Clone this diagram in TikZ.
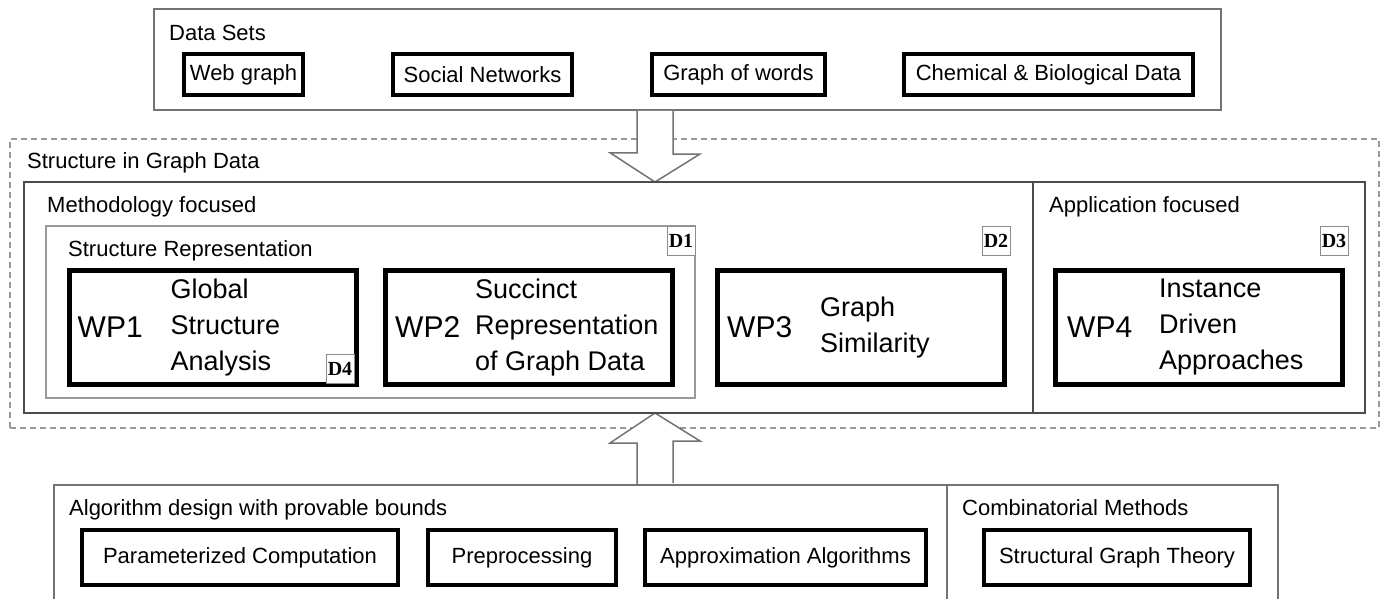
\documentclass[tikz,border=0pt]{standalone}
\usepackage{fontspec}
\setmainfont{Liberation Sans}
\newfontfamily\dlabelfont{Liberation Serif}
\usepackage{tikz}
\usetikzlibrary{calc,positioning}

\tikzset{
  frame/.style={draw=black!55, line width=1.5pt, inner sep=0pt},
  heading/.style={anchor=base west, inner sep=0pt, font=\fontsize{22}{26}\selectfont},
  itembox/.style={draw, line width=4.5pt, inner sep=0pt, minimum height=41pt, font=\fontsize{22}{26}\selectfont},
  wpbox/.style={draw, line width=5pt, inner sep=0pt, minimum width=287pt, minimum height=114pt},
  wpname/.style={anchor=west, inner sep=0pt, font=\fontsize{30}{36}\selectfont},
  wptext/.style={anchor=west, inner sep=0pt, align=left, font=\fontsize{27}{36}\selectfont},
  dbox/.style={draw=black!45, line width=1pt, fill=white, inner sep=0pt, minimum width=28pt, minimum height=29pt, font=\fontsize{20}{22}\selectfont\dlabelfont\bfseries},
  bigarrow/.style={draw=black!55, line width=1.5pt, fill=white, line join=miter},
}

\begin{document}
\begin{tikzpicture}[x=1pt,y=-1pt]
  \useasboundingbox (0,0) rectangle (1384,598);

  % data sets
  \node[frame, minimum width=1067pt, minimum height=101pt] (datasets) at (687.5,59.5) {};
  \node[heading] (datasetsT) at (169,40) {Data Sets};
  \node[itembox, minimum width=119pt] (web) at (243.5,74.5) {Web graph};
  \node[itembox, minimum width=179pt] (social) at (482.5,74.5) {Social Networks};
  \node[itembox, minimum width=173pt] (words) at (738.5,74.5) {Graph of words};
  \node[itembox, minimum width=289pt] (chem) at (1048.5,74.5) {Chemical \& Biological Data};

  % structure in graph data
  \node[frame, draw=black!40, dashed, dash pattern=on 6pt off 4pt, minimum width=1369pt, minimum height=289pt] (graphdata) at (694.5,283.5) {};
  \node[heading] (graphdataT) at (27,168) {Structure in Graph Data};

  % arrows in and out
  \coordinate (downtip) at (655,182);
  \coordinate (uptip) at (655,413);
  \draw[bigarrow] ($(downtip |- datasets.south)+(-18,0)$) -- ++(0,42) -- ++(-27,0)
    -- (downtip) -- ++(45,-28) -- ++(-27,0) -- ($(downtip |- datasets.south)+(18,0)$);
  \draw[bigarrow] ($(uptip)+(-18,72)$) -- ++(0,-42) -- ++(-27,0)
    -- (uptip) -- ++(45,28) -- ++(-27,0) -- ++(0,42);

  % methodology / application
  \node[frame, draw=black!70, minimum width=1341pt, minimum height=231pt] (focus) at (694.5,297.5) {};
  \draw[black!70, line width=1.5pt] (focus.north -| 1033,0) -- (focus.south -| 1033,0);
  \node[heading] (methT) at (47,212) {Methodology focused};
  \node[heading] (applT) at (1049,212) {Application focused};

  % structure representation
  \node[frame, draw=black!40, minimum width=649pt, minimum height=172pt] (represent) at (370.5,312) {};
  \node[heading] (representT) at (68,256) {Structure Representation};

  % work packages
  \node[wpbox] (wp1) at (212.5,327.5) {};
  \node[wpname] (wp1n) at ([xshift=11pt]wp1.west) {WP1};
  \node[wptext] (wp1t) at ([xshift=104pt]wp1.west) {Global\\Structure\\Analysis};

  \node[wpbox] (wp2) at (529,327.5) {};
  \node[wpname] (wp2n) at ([xshift=12pt]wp2.west) {WP2};
  \node[wptext] (wp2t) at ([xshift=92pt]wp2.west) {Succinct\\Representation\\of Graph Data};

  \node[wpbox] (wp3) at (861,327.5) {};
  \node[wpname] (wp3n) at ([xshift=12pt]wp3.west) {WP3};
  \node[wptext] (wp3t) at ([xshift=105pt]wp3.west) {Graph\\Similarity};

  \node[wpbox] (wp4) at (1199,327.5) {};
  \node[wpname] (wp4n) at ([xshift=14pt]wp4.west) {WP4};
  \node[wptext] (wp4t) at ([xshift=106pt]wp4.west) {Instance\\Driven\\Approaches};

  % deliverables
  \node[dbox] (d1) at (681,240.5) {D1};
  \node[dbox] (d2) at (996,240.5) {D2};
  \node[dbox] (d3) at (1334,240.5) {D3};
  \node[dbox] (d4) at (340,369) {D4};

  % methods
  \draw[black!55, line width=1.5pt] (54,600) -- (54,485) -- (947,485) -- (947,600);
  \draw[black!55, line width=1.5pt] (947,485) -- (1278,485) -- (1278,600);
  \node[heading] (algoT) at (69,515) {Algorithm design with provable bounds};
  \node[heading] (combT) at (962,515) {Combinatorial Methods};
  \node[itembox, minimum width=316pt, minimum height=55pt] (param) at (240,557.5) {Parameterized Computation};
  \node[itembox, minimum width=188pt, minimum height=55pt] (prep) at (522,557.5) {Preprocessing};
  \node[itembox, minimum width=281pt, minimum height=55pt] (approx) at (785.5,557.5) {Approximation Algorithms};
  \node[itembox, minimum width=266pt, minimum height=55pt] (sgt) at (1117,557.5) {Structural Graph Theory};
\end{tikzpicture}
\end{document}
